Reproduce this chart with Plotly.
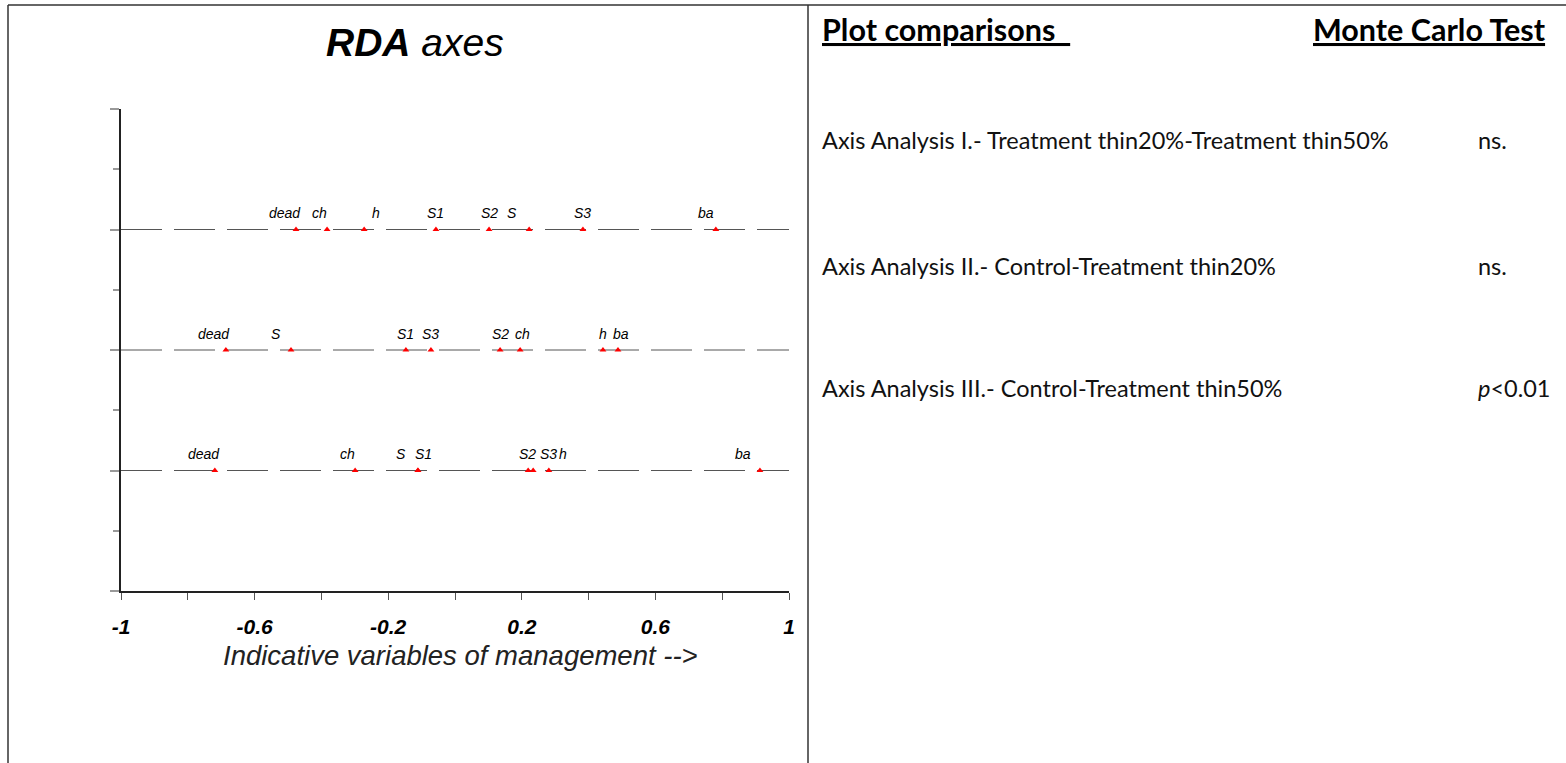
import plotly.graph_objects as go

# ---------------- data ----------------
x_ticks = [-1, -0.8, -0.6, -0.4, -0.2, 0, 0.2, 0.4, 0.6, 0.8, 1]
x_tick_labels = ["-1", "", "-0.6", "", "-0.2", "", "0.2", "", "0.6", "", "1"]

row_levels = [6, 4, 2]   # vertical position of each RDA axis line

axis_I_vars = ["dead", "ch", "h", "S1", "S2", "S", "S3", "ba"]
axis_I_scores = [-0.476, -0.383, -0.272, -0.057, 0.102, 0.222, 0.383, 0.781]

axis_II_vars = ["dead", "S", "S1", "S3", "S2", "ch", "h", "ba"]
axis_II_scores = [-0.686, -0.491, -0.147, -0.072, 0.135, 0.195, 0.443, 0.488]

axis_III_vars = ["dead", "ch", "S", "S1", "S2", "S3", "h", "ba"]
axis_III_scores = [-0.719, -0.299, -0.111, -0.111, 0.219, 0.234, 0.281, 0.913]

comparisons = [
    "Axis Analysis I.- Treatment thin20%-Treatment thin50%",
    "Axis Analysis II.- Control-Treatment thin20%",
    "Axis Analysis III.- Control-Treatment thin50%",
]
monte_carlo = ["ns.", "ns.", "<i>p</i>&lt;0.01"]

# label offsets (pixels) used by the original label placement
label_dx = [
    [-11, -8, 12, 0, 0, -17, 0, -10],
    [-12, -15, 0, 0, 0, 2, 0, 3],
    [-11, -8, -17, 6, -1, 15, 14, -17],
]

# ---------------- figure ----------------
W, H = 1566, 763
def px(x):
    return x / W
def py(y):
    return 1 - y / H

x_dom = [px(121), px(789)]
y_dom = [py(591), py(109)]
x_range = [-1, 1]
y_range = [0, 8]

fig = go.Figure()

rows = [
    (axis_I_vars, axis_I_scores),
    (axis_II_vars, axis_II_scores),
    (axis_III_vars, axis_III_scores),
]

annotations = []
for (names, scores), level, dxs in zip(rows, row_levels, label_dx):
    fig.add_trace(go.Scatter(
        x=x_range, y=[level, level], mode="lines",
        line=dict(color="#555555", width=1, dash="41px,12px"),
        hoverinfo="skip", showlegend=False))
    fig.add_trace(go.Scatter(
        x=scores, y=[level] * len(scores), mode="markers",
        marker=dict(symbol="triangle-up", size=6, color="#ff0000"),
        showlegend=False, cliponaxis=False))
    for n, s, d in zip(names, scores, dxs):
        annotations.append(dict(
            x=s, y=level, xref="x", yref="y", text=n, showarrow=False,
            xshift=d, yshift=16,
            font=dict(family="Liberation Sans, Arial", size=14, color="#000", style="italic")))

tick_font = dict(family="Liberation Sans, Arial", size=21, color="#000",
                 weight="bold", style="italic")

fig.update_layout(
    autosize=True,
    margin=dict(l=0, r=0, t=0, b=0, autoexpand=False),
    paper_bgcolor="white", plot_bgcolor="white",
    showlegend=False,
    xaxis=dict(domain=x_dom, range=x_range, tickmode="array",
               tickvals=x_ticks, ticktext=x_tick_labels,
               ticks="outside", ticklen=7, tickcolor="#555", tickwidth=1,
               showline=True, linecolor="#222", linewidth=2,
               showgrid=False, zeroline=False, tickfont=tick_font,
               ticklabelstandoff=9, anchor="y"),
    xaxis2=dict(domain=x_dom, range=x_range, overlaying="x", anchor="y",
                tickmode="array", tickvals=x_ticks, ticktext=[""] * len(x_ticks),
                ticks="inside", ticklen=7, tickcolor="#555", tickwidth=1,
                showline=False, showgrid=False, zeroline=False),
    yaxis=dict(domain=y_dom, range=y_range, dtick=2, tick0=0,
               ticks="outside", ticklen=9, tickcolor="#999", tickwidth=1.5,
               minor=dict(dtick=1, ticks="outside", ticklen=6, tickcolor="#999", tickwidth=1.5),
               showticklabels=False, showline=True, linecolor="#222", linewidth=2,
               showgrid=False, zeroline=False, anchor="x"),
    yaxis2=dict(domain=y_dom, range=y_range, overlaying="y", anchor="x",
                dtick=2, tick0=0, ticks="inside", ticklen=9, tickcolor="#999", tickwidth=1.5,
                minor=dict(dtick=1, ticks="inside", ticklen=6, tickcolor="#999", tickwidth=1.5),
                showticklabels=False, showline=False, showgrid=False, zeroline=False),
)

# title and axis title
annotations.append(dict(
    x=px(415), y=py(42), xref="paper", yref="paper", xanchor="center", yanchor="middle",
    text="<b>RDA</b> axes", showarrow=False,
    font=dict(family="Liberation Sans, Arial", size=39, color="#000", style="italic")))
annotations.append(dict(
    x=px(460), y=py(655), xref="paper", yref="paper", xanchor="center", yanchor="middle",
    text="Indicative variables of management --&gt;", showarrow=False,
    font=dict(family="Liberation Sans, Arial", size=27.5, color="#222", style="italic")))

# right panel text
hdr_font = dict(family="Lato, Open Sans", size=30.5, color="#000", weight="bold")
body_font = dict(family="Lato, Open Sans", size=23.5, color="#111")
annotations.append(dict(
    x=px(820), y=py(29), xref="paper", yref="paper", xanchor="left", yanchor="middle",
    text="<u>Plot comparisons&nbsp;&nbsp;</u>", showarrow=False, font=hdr_font))
annotations.append(dict(
    x=px(1548), y=py(29), xref="paper", yref="paper", xanchor="right", yanchor="middle",
    text="<u>Monte Carlo Test</u>", showarrow=False, font=hdr_font))
for txt, res, yy in zip(comparisons, monte_carlo, [140, 266, 388]):
    annotations.append(dict(
        x=px(820), y=py(yy), xref="paper", yref="paper", xanchor="left", yanchor="middle",
        text=txt, showarrow=False, font=body_font))
    annotations.append(dict(
        x=px(1476), y=py(yy), xref="paper", yref="paper", xanchor="left", yanchor="middle",
        text=res, showarrow=False, font=body_font))

fig.update_layout(annotations=annotations)

# panel frame
frame = dict(color="#333", width=1.5)
fig.add_shape(type="line", xref="paper", yref="paper", x0=px(8), x1=1, y0=py(5), y1=py(5), line=frame)
fig.add_shape(type="line", xref="paper", yref="paper", x0=px(8), x1=px(8), y0=py(5), y1=0, line=frame)
fig.add_shape(type="line", xref="paper", yref="paper", x0=px(808), x1=px(808), y0=py(5), y1=0, line=frame)

fig.write_html(
    "out.html",
    default_width="100vw", default_height="100vh",
    config={"displayModeBar": False, "responsive": True},
    post_script=("document.documentElement.style.margin='0px';"
                 "document.body.style.margin='0px';"
                 "document.body.style.overflow='hidden';"
                 "var gd=document.getElementById('{plot_id}');"
                 "gd.style.width='100vw';gd.style.height='100vh';"
                 "Plotly.Plots.resize(gd);"),
)
